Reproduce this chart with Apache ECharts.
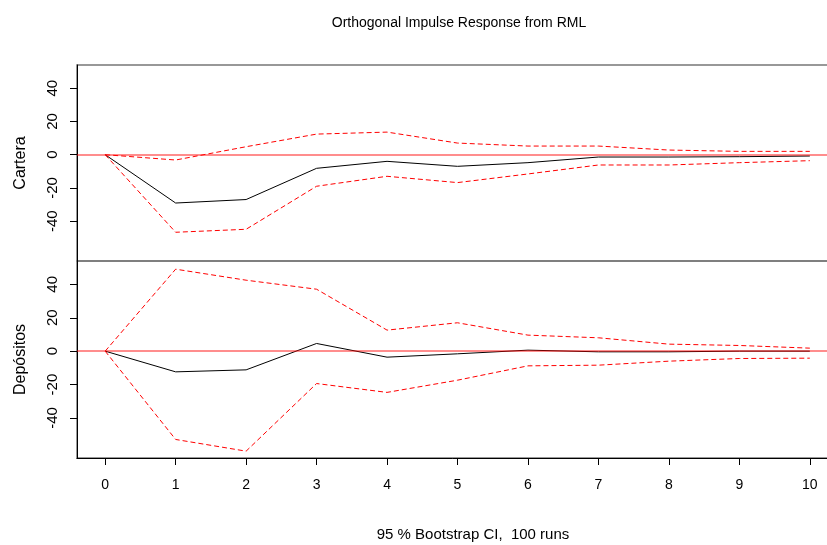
<!DOCTYPE html>
<html>
<head>
<meta charset="utf-8">
<script src="https://cdn.jsdelivr.net/npm/echarts@6/dist/echarts.min.js"></script>
<style>
  html, body { margin: 0; padding: 0; background: #fff; }
  #irf { width: 827px; height: 545px; }
</style>
</head>
<body>
<div id="irf"></div>
<script>
// horizonte de la respuesta
var steps = [0, 1, 2, 3, 4, 5, 6, 7, 8, 9, 10];
var yTicks = [-40, -20, 0, 20, 40];

// Cartera
var carteraIrf   = [0, -29.1, -27.0, -8.2, -4.0, -7.0, -4.8, -1.4, -1.4, -1.2, -0.8];
var carteraUpper = [0, -3.2, 4.8, 12.4, 13.6, 7.0, 5.2, 5.2, 2.8, 2.0, 2.0];
var carteraLower = [0, -46.7, -44.9, -19.0, -13.0, -16.8, -11.6, -6.2, -6.2, -4.8, -3.6];

// Depósitos
var depositosIrf   = [0, -12.4, -11.2, 4.6, -3.6, -1.6, 0.6, -0.4, -0.4, 0, 0];
var depositosUpper = [0, 49.1, 42.5, 37.1, 12.6, 17.0, 9.6, 8.0, 4.2, 3.4, 1.8];
var depositosLower = [0, -52.9, -59.9, -19.4, -24.7, -17.4, -8.8, -8.4, -6.0, -4.4, -4.2];

var FONT = 'Liberation Sans, Arial, sans-serif';

function pairs(vals) {
  return steps.map(function (s, i) { return [s, vals[i]]; });
}

function xAx(idx, withLabels) {
  return {
    type: 'value', gridIndex: idx, min: -0.4, max: 10.4,
    splitLine: { show: false },
    axisLine: { show: withLabels, onZero: false, lineStyle: { color: '#000', width: 1 } },
    axisTick: { show: withLabels, length: 7, customValues: steps, lineStyle: { color: '#000' } },
    axisLabel: { show: withLabels, customValues: steps, margin: 20, fontSize: 14, color: '#000', fontFamily: FONT }
  };
}

function yAx(idx, name) {
  return {
    type: 'value', gridIndex: idx, min: -64, max: 54,
    name: name, nameLocation: 'middle', nameGap: 48,
    nameTextStyle: { fontSize: 16, color: '#000', fontFamily: FONT },
    splitLine: { show: false },
    axisLine: { show: true, onZero: false, lineStyle: { color: '#000', width: 1 } },
    axisTick: { show: true, length: 7, customValues: yTicks, lineStyle: { color: '#000' } },
    axisLabel: { customValues: yTicks, rotate: 90, margin: 17, fontSize: 15, color: '#000', fontFamily: FONT }
  };
}

function line(idx, vals, dashed, zero) {
  var s = {
    type: 'line', xAxisIndex: idx, yAxisIndex: idx,
    data: pairs(vals), showSymbol: false, symbol: 'none', animation: false,
    lineStyle: dashed ? { color: '#ff0000', width: 1, type: [5, 3] } : { color: '#000', width: 1 }
  };
  if (zero) {
    s.markLine = {
      silent: true, symbol: 'none', animation: false, label: { show: false },
      lineStyle: { color: 'rgba(255,0,0,0.6)', width: 1.5, type: 'solid' },
      data: [{ yAxis: 0 }]
    };
  }
  return s;
}

var chart = echarts.init(document.getElementById('irf'), null, { renderer: 'canvas' });
chart.setOption({
  backgroundColor: '#fff',
  animation: false,
  title: [
    { text: 'Orthogonal Impulse Response from RML', left: 454, top: 11, textAlign: 'center',
      textStyle: { fontSize: 14, fontWeight: 'normal', color: '#000', fontFamily: FONT } },
    { text: '95 % Bootstrap CI,  100 runs', left: 468, top: 522, textAlign: 'center',
      textStyle: { fontSize: 15, fontWeight: 'normal', color: '#000', fontFamily: FONT } }
  ],
  grid: [
    { left: 77, top: 65, width: 761, height: 196, outerBoundsMode: 'none',
      show: true, borderColor: '#777', borderWidth: 1.5 },
    { left: 77, top: 261, width: 761, height: 197, outerBoundsMode: 'none',
      show: true, borderColor: '#777', borderWidth: 1.5 }
  ],
  xAxis: [xAx(0, false), xAx(1, true)],
  yAxis: [yAx(0, 'Cartera'), yAx(1, 'Depósitos')],
  series: [
    line(0, carteraIrf, false, true),
    line(0, carteraUpper, true),
    line(0, carteraLower, true),
    line(1, depositosIrf, false, true),
    line(1, depositosUpper, true),
    line(1, depositosLower, true)
  ]
});
</script>
</body>
</html>
